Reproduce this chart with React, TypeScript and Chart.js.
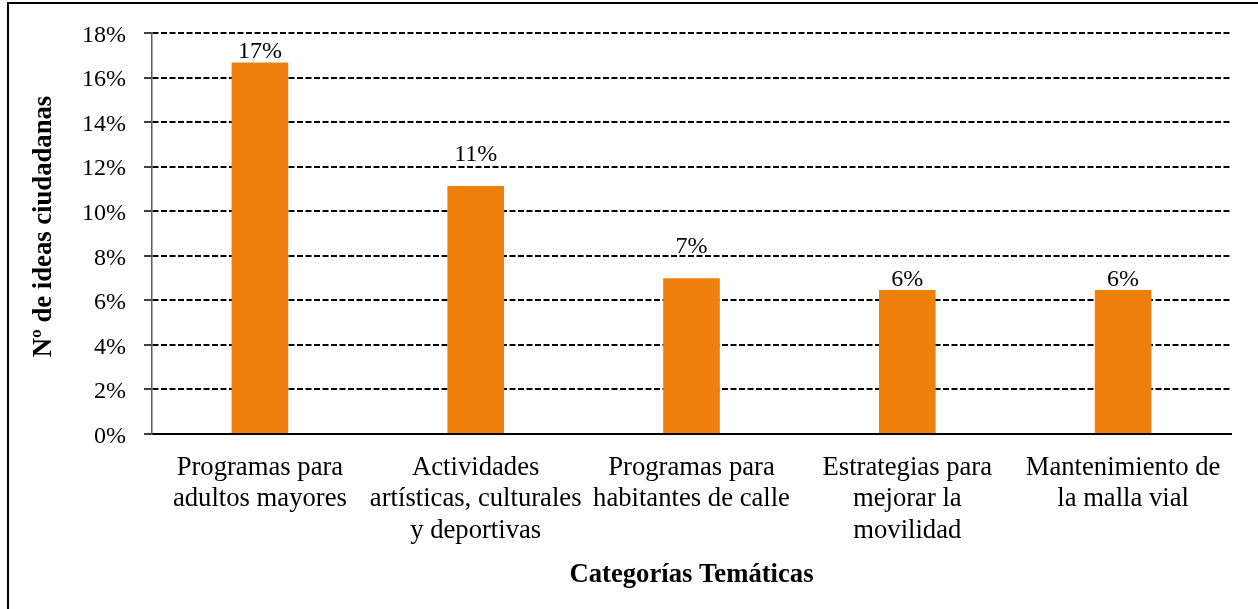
import React, { useEffect, useRef } from "react";
import { Chart, registerables } from "chart.js";

Chart.register(...registerables);

// ---- Data ----
const categories: string[][] = [
  ["Programas para", "adultos mayores"],
  ["Actividades", "artísticas, culturales", "y deportivas"],
  ["Programas para", "habitantes de calle"],
  ["Estrategias para", "mejorar la", "movilidad"],
  ["Mantenimiento de", "la malla vial"],
];
const shares: number[] = [0.1668, 0.1113, 0.0699, 0.0646, 0.0646];
const yMin = 0;
const yMax = 0.18;
const yStep = 0.02;
const yAxisTitle = "Nº de ideas ciudadanas";
const xAxisTitle = "Categorías Temáticas";

// ---- Style ----
const FONT = '"Liberation Serif", "Times New Roman", serif';
const BAR_COLOR = "#F0800C";
const labelGaps = [4, 25, 25, 4, 4];

const pct = (v: number) => Math.round(v * 100) + "%";

const dataLabelPlugin = {
  id: "dataLabels",
  afterDatasetsDraw(chart: any) {
    const ctx = chart.ctx;
    const meta = chart.getDatasetMeta(0);
    ctx.save();
    ctx.font = `24px ${FONT}`;
    ctx.fillStyle = "#000";
    ctx.textAlign = "center";
    ctx.textBaseline = "alphabetic";
    meta.data.forEach((bar: any, i: number) => {
      ctx.fillText(pct(shares[i]), bar.x, bar.y - labelGaps[i]);
    });
    ctx.restore();
  },
};

const yTitlePlugin = {
  id: "yTitle",
  afterDraw(chart: any) {
    const ctx = chart.ctx;
    const area = chart.chartArea;
    ctx.save();
    ctx.font = `bold 26.67px ${FONT}`;
    ctx.fillStyle = "#000";
    ctx.textAlign = "center";
    ctx.textBaseline = "middle";
    ctx.translate(44, (area.top + area.bottom) / 2 - 7);
    ctx.rotate(-Math.PI / 2);
    ctx.fillText(yAxisTitle, 0, 0);
    ctx.restore();
  },
};

export default function App() {
  const canvasRef = useRef<HTMLCanvasElement | null>(null);

  useEffect(() => {
    if (!canvasRef.current) return;
    Chart.defaults.font.family = FONT;
    Chart.defaults.color = "#000";
    const chart = new Chart(canvasRef.current, {
      type: "bar",
      data: {
        labels: categories,
        datasets: [
          {
            data: shares,
            backgroundColor: BAR_COLOR,
            borderWidth: 0,
            categoryPercentage: 1,
            barPercentage: 0.2625,
          },
        ],
      },
      options: {
        responsive: false,
        animation: false,
        layout: { padding: { top: 33, right: 27, bottom: 0, left: 0 } },
        plugins: {
          legend: { display: false },
          tooltip: { enabled: false },
        },
        scales: {
          x: {
            afterFit: (scale: any) => {
              scale.height = 175;
            },
            grid: { display: false, drawTicks: false },
            border: { display: true, color: "#000", width: 2 },
            ticks: {
              autoSkip: false,
              maxRotation: 0,
              minRotation: 0,
              padding: 18.5,
              color: "#000",
              font: { size: 26.67, lineHeight: 1.17, family: FONT },
            },
            title: {
              display: true,
              text: xAxisTitle,
              color: "#000",
              font: { size: 26.67, weight: "bold", family: FONT },
              padding: { top: 0, bottom: 18 },
            },
          },
          y: {
            min: yMin,
            max: yMax,
            afterFit: (scale: any) => {
              scale.width = 152;
            },
            ticks: {
              stepSize: yStep,
              padding: 18,
              labelOffset: 2.5,
              color: "#000",
              font: { size: 24, family: FONT },
              callback: (v: any) => pct(Number(v)),
            },
            grid: {
              color: (c: any) => (c.tick && c.tick.value === 0 ? "rgba(0,0,0,0)" : "#000"),
              lineWidth: 2,
              drawTicks: true,
              tickLength: 8,
              tickColor: "#000",
              tickWidth: 1.5,
            },
            border: { display: true, color: "#595959", width: 1.5, dash: [6, 2.5] },
            title: { display: false },
          },
        },
      },
      plugins: [dataLabelPlugin, yTitlePlugin],
    } as any);
    return () => chart.destroy();
  }, []);

  return (
    <div style={{ position: "fixed", left: 0, top: 0, width: 1258, height: 609, background: "#fff", overflow: "hidden" }}>
      <canvas ref={canvasRef} width={1258} height={609} style={{ display: "block", width: 1258, height: 609 }} />
      <div
        style={{
          position: "absolute",
          left: 7,
          top: 2,
          width: 1300,
          height: 700,
          borderLeft: "2px solid #000",
          borderTop: "2px solid #000",
          pointerEvents: "none",
        }}
      />
    </div>
  );
}
